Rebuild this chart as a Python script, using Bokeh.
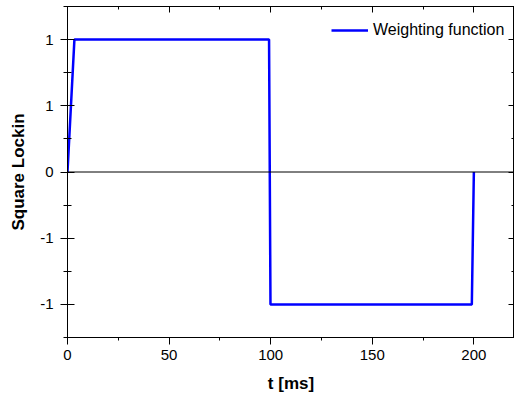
from bokeh.plotting import figure
from bokeh.models import (Range1d, FixedTicker, LinearAxis, Span, Legend, LegendItem)
from bokeh.embed import file_html
from bokeh.resources import INLINE

# Data
t_ms = [0, 3.4, 99.2, 99.9, 199.0, 200.0]
square = [0, 1, 1, -1, -1, 0]
series_label = "Weighting function"

x_ticks = [0, 50, 100, 150, 200]
x_minor = [25, 75, 125, 175, 225]
y_ticks = [-1, -0.5, 0, 0.5, 1]
y_tick_labels = ["-1", "-1", "0", "1", "1"]
y_minor = [-1.25, -0.75, -0.25, 0.25, 0.75, 1.25]

FONT = "Liberation Sans"

p = figure(width=514, height=403, output_backend="svg", toolbar_location=None,
           x_range=Range1d(0, 220), y_range=Range1d(-1.25, 1.25),
           x_axis_label="t [ms]", y_axis_label="Square Lockin",
           min_border_left=67, min_border_right=0, min_border_top=6, min_border_bottom=66)
p.grid.visible = False
p.outline_line_color = "black"
p.outline_line_width = 1
p.background_fill_color = "white"
p.border_fill_color = "white"

xt = FixedTicker(ticks=x_ticks, minor_ticks=x_minor)
yt = FixedTicker(ticks=y_ticks, minor_ticks=y_minor)

xa = p.xaxis[0]
xa.ticker = xt
xa.major_tick_in = 0
xa.major_tick_out = 7
xa.minor_tick_in = 0
xa.minor_tick_out = 3
xa.major_label_standoff = 5
xa.major_label_text_font = FONT
xa.major_label_text_font_size = "15px"
xa.major_label_text_color = "black"
xa.axis_label_text_font = FONT
xa.axis_label_text_font_size = "17px"
xa.axis_label_text_font_style = "bold"
xa.axis_label_text_color = "black"
xa.axis_label_standoff = 11
xa.axis_line_color = "black"

ya = p.yaxis[0]
ya.ticker = yt
ya.major_label_overrides = {v: s for v, s in zip(y_ticks, y_tick_labels)}
ya.major_tick_in = 7
ya.major_tick_out = 7
ya.minor_tick_in = 4
ya.minor_tick_out = 4
ya.major_label_standoff = 7
ya.major_label_text_font = FONT
ya.major_label_text_font_size = "15px"
ya.major_label_text_color = "black"
ya.axis_label_text_font = FONT
ya.axis_label_text_font_size = "17px"
ya.axis_label_text_font_style = "bold"
ya.axis_label_text_color = "black"
ya.axis_label_standoff = 9
ya.axis_line_color = "black"

top = LinearAxis(ticker=FixedTicker(ticks=x_ticks, minor_ticks=x_minor),
                 major_tick_in=6, major_tick_out=0, minor_tick_in=3, minor_tick_out=0,
                 major_label_overrides={v: "" for v in x_ticks},
                 major_label_text_font_size="1px", major_label_standoff=0,
                 axis_line_color=None)
p.add_layout(top, "above")
right = LinearAxis(ticker=FixedTicker(ticks=y_ticks, minor_ticks=y_minor),
                   major_tick_in=6, major_tick_out=0, minor_tick_in=3, minor_tick_out=0,
                   major_label_overrides={v: "" for v in y_ticks},
                   major_label_text_font_size="1px", major_label_standoff=0,
                   axis_line_color=None)
p.add_layout(right, "right")

p.add_layout(Span(location=0, dimension="width", line_color="black", line_width=1))

r = p.line(t_ms, square, line_color="#0000ff", line_width=2.5)

legend = Legend(items=[LegendItem(label=series_label, renderers=[r])],
                location=(264, 297), padding=0, margin=0, spacing=0,
                glyph_width=37, glyph_height=20, label_standoff=5,
                label_text_font=FONT, label_text_font_size="16px",
                label_text_color="black",
                border_line_color=None, background_fill_alpha=0)
p.add_layout(legend, "center")

open("out.html", "w").write(file_html(p, INLINE))
